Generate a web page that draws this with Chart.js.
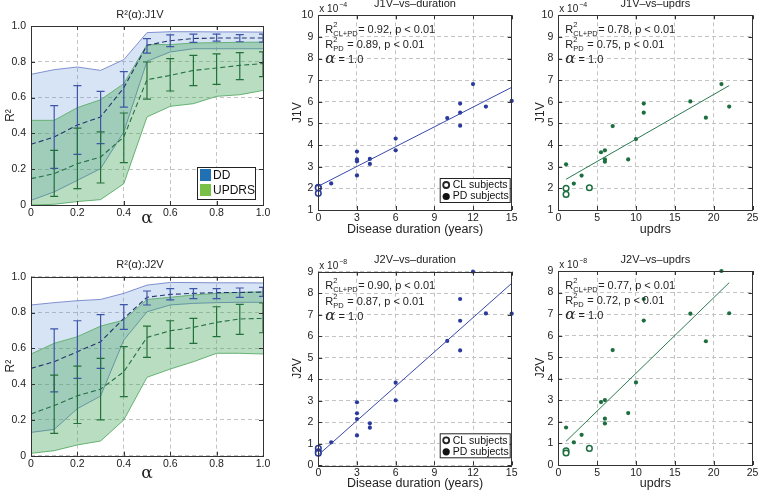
<!DOCTYPE html>
<html>
<head>
<meta charset="utf-8">
<script src="https://cdn.jsdelivr.net/npm/chart.js@4.4.1/dist/chart.umd.min.js"></script>
<style>
  html, body { margin: 0; padding: 0; background: #fff; }
  body { width: 758px; height: 491px; position: relative; overflow: hidden; }
  canvas { position: absolute; }
</style>
</head>
<body>
<canvas id="c1" width="275" height="240" style="left:0;top:0"></canvas>
<canvas id="c2" width="245" height="240" style="left:275px;top:0"></canvas>
<canvas id="c3" width="238" height="240" style="left:520px;top:0"></canvas>
<canvas id="c4" width="275" height="251" style="left:0;top:240px"></canvas>
<canvas id="c5" width="245" height="251" style="left:275px;top:240px"></canvas>
<canvas id="c6" width="238" height="251" style="left:520px;top:240px"></canvas>
<script>
// ---- data: R^2 against alpha ----
const alphaGrid = [0, 0.1, 0.2, 0.3, 0.4, 0.5, 0.6, 0.7, 0.8, 0.9, 1];
const barAlpha = [0.1, 0.2, 0.3, 0.4, 0.5, 0.6, 0.7, 0.8, 0.9, 1];

const j1vDdHi   = [0.73, 0.756, 0.771, 0.752, 0.812, 0.963, 0.968, 0.968, 0.967, 0.967, 0.966];
const j1vDdLo   = [0.026, 0.073, 0.138, 0.203, 0.408, 0.803, 0.855, 0.873, 0.873, 0.873, 0.873];
const j1vDdMean = [0.339, 0.38, 0.447, 0.492, 0.655, 0.892, 0.918, 0.93, 0.933, 0.933, 0.933];
const j1vUpHi   = [0.473, 0.473, 0.544, 0.588, 0.678, 0.896, 0.896, 0.905, 0.907, 0.909, 0.91];
const j1vUpLo   = [0, 0.004, 0.019, 0.03, 0.119, 0.492, 0.551, 0.566, 0.607, 0.616, 0.64];
const j1vUpMean = [0.147, 0.175, 0.231, 0.268, 0.38, 0.70, 0.724, 0.752, 0.765, 0.78, 0.79];
const j1vDdErrLo = [0.205, 0.283, 0.343, 0.547, 0.849, 0.885, 0.909, 0.915, 0.912, 0.91];
const j1vDdErrHi = [0.555, 0.667, 0.635, 0.745, 0.929, 0.95, 0.955, 0.955, 0.952, 0.955];
const j1vUpErrLo = [0.048, 0.091, 0.123, 0.237, 0.592, 0.637, 0.667, 0.674, 0.70, 0.717];
const j1vUpErrHi = [0.305, 0.43, 0.408, 0.514, 0.799, 0.818, 0.836, 0.844, 0.851, 0.856];

const j2vDdHi   = [0.842, 0.855, 0.866, 0.873, 0.907, 0.953, 0.968, 0.967, 0.966, 0.966, 0.965];
const j2vDdLo   = [0.13, 0.147, 0.263, 0.333, 0.646, 0.804, 0.842, 0.851, 0.855, 0.857, 0.857];
const j2vDdMean = [0.488, 0.525, 0.581, 0.637, 0.767, 0.885, 0.901, 0.907, 0.911, 0.912, 0.914];
const j2vUpHi   = [0.568, 0.628, 0.665, 0.724, 0.758, 0.873, 0.885, 0.898, 0.907, 0.912, 0.916];
const j2vUpLo   = [0.013, 0.028, 0.06, 0.082, 0.2, 0.438, 0.484, 0.525, 0.572, 0.572, 0.568];
const j2vUpMean = [0.233, 0.28, 0.335, 0.372, 0.469, 0.661, 0.698, 0.717, 0.745, 0.764, 0.767];
const j2vDdErrLo = [0.357, 0.432, 0.488, 0.706, 0.842, 0.87, 0.877, 0.877, 0.885, 0.89];
const j2vDdErrHi = [0.708, 0.754, 0.788, 0.844, 0.92, 0.933, 0.933, 0.933, 0.937, 0.94];
const j2vUpErrLo = [0.125, 0.18, 0.2, 0.33, 0.549, 0.6, 0.628, 0.665, 0.678, 0.687];
const j2vUpErrHi = [0.45, 0.50, 0.544, 0.609, 0.724, 0.754, 0.767, 0.832, 0.845, 0.853];

// ---- data: subjects (J1V in 1e-4, J2V in 1e-8) ----
const durPd = [1, 3, 3, 3, 3, 4, 4, 6, 6, 10, 11, 11, 11, 12, 13, 15];
const durCl = [0, 0, 0];
const durJ1vPd = [2.23, 3.70, 3.34, 3.25, 2.60, 3.36, 3.13, 4.30, 3.76, 5.25, 5.92, 5.50, 4.90, 6.82, 5.78, 6.04];
const durJ1vCl = [2.05, 2.02, 1.77];
const durJ2vPd = [1.07, 2.93, 2.42, 2.15, 1.39, 1.95, 1.75, 3.84, 3.02, 5.78, 7.73, 6.72, 5.34, 9.0, 7.06, 7.05];
const durJ2vCl = [0.79, 0.63, 0.56];

const updPd = [1, 2, 3, 5.5, 6, 6, 6, 7, 9, 10, 11, 11, 17, 19, 21, 22];
const updCl = [1, 1, 4];
const updJ1vPd = [3.11, 2.22, 2.59, 3.67, 3.76, 3.34, 3.23, 4.88, 3.34, 4.28, 5.92, 5.50, 6.02, 5.27, 6.82, 5.78];
const updJ1vCl = [2.0, 1.72, 2.03];
const updJ2vPd = [1.74, 1.05, 1.40, 2.92, 3.01, 2.15, 1.93, 5.33, 2.41, 3.83, 7.70, 6.70, 7.02, 5.74, 9.0, 7.04];
const updJ2vCl = [0.66, 0.56, 0.77];

// fitted lines (end points)
const durFitX = [0, 15];
const durJ1vFit = [2.1, 6.67];
const durJ2vFit = [0.48, 8.46];
const updFitX = [1, 22];
const updJ1vFit = [2.42, 6.75];
const updJ2vFit = [1.1, 8.46];

const FONT = '"Liberation Sans", Arial, sans-serif';
Chart.defaults.font.family = FONT;
Chart.defaults.color = '#222';
Chart.defaults.animation = false;

const pts = (xs, ys) => xs.map((x, i) => ({ x: x, y: ys[i] }));

// text, box, inner ticks, error bars and legends
const deco = {
  id: 'deco',
  afterDraw(chart, args, o) {
    const ctx = chart.ctx, a = chart.chartArea;
    const xs = chart.scales.x, ys = chart.scales.y;
    ctx.save();
    if (o.bars) {
      ctx.save();
      ctx.beginPath();
      ctx.rect(a.left, a.top - 6, a.right - a.left, a.bottom - a.top + 12);
      ctx.clip();
      o.bars.forEach(b => {
        ctx.strokeStyle = b.color;
        ctx.lineWidth = 1.2;
        b.x.forEach((xv, i) => {
          const px = xs.getPixelForValue(xv);
          const p1 = ys.getPixelForValue(b.lo[i]), p2 = ys.getPixelForValue(b.hi[i]);
          ctx.beginPath();
          ctx.moveTo(px, p1); ctx.lineTo(px, p2);
          ctx.moveTo(px - 4, p1); ctx.lineTo(px + 4, p1);
          ctx.moveTo(px - 4, p2); ctx.lineTo(px + 4, p2);
          ctx.stroke();
        });
      });
      ctx.restore();
    }
    // axes box and inward ticks
    ctx.strokeStyle = '#333';
    ctx.lineWidth = 1;
    ctx.strokeRect(Math.round(a.left) + 0.5, Math.round(a.top) + 0.5,
      Math.round(a.right - a.left), Math.round(a.bottom - a.top));
    ctx.beginPath();
    xs.ticks.forEach(t => {
      const p = Math.round(xs.getPixelForValue(t.value)) + 0.5;
      ctx.moveTo(p, a.bottom); ctx.lineTo(p, a.bottom - 4);
      ctx.moveTo(p, a.top); ctx.lineTo(p, a.top + 4);
    });
    ys.ticks.forEach(t => {
      const p = Math.round(ys.getPixelForValue(t.value)) + 0.5;
      ctx.moveTo(a.left, p); ctx.lineTo(a.left + 4, p);
      ctx.moveTo(a.right, p); ctx.lineTo(a.right - 4, p);
    });
    ctx.stroke();

    ctx.fillStyle = '#222';
    if (o.title) {
      ctx.font = o.titleFont || ('11px ' + FONT);
      ctx.textAlign = 'center';
      ctx.textBaseline = 'middle';
      const tx = o.titleX != null ? o.titleX : (a.left + a.right) / 2;
      ctx.fillText(o.title, tx, o.titleY);
    }
    ctx.textAlign = 'left';
    ctx.textBaseline = 'alphabetic';
    if (o.expo) {
      ctx.font = '10px ' + FONT;
      ctx.fillText('x 10', a.left + 1, a.top - 3);
      const w = ctx.measureText('x 10').width;
      ctx.font = '7px ' + FONT;
      ctx.fillText(o.expo, a.left + 1 + w + 1, a.top - 8);
    }
    if (o.notes) {
      const x0 = a.left + 7;
      const rLine = (y, sub, rest) => {
        ctx.font = '11px ' + FONT;
        ctx.fillText('R', x0, y);
        const w = ctx.measureText('R').width;
        ctx.font = '7.5px ' + FONT;
        ctx.fillText('2', x0 + w, y - 6);
        ctx.fillText(sub, x0 + w, y + 3);
        const sw = Math.max(ctx.measureText('2').width, ctx.measureText(sub).width);
        ctx.font = '11px ' + FONT;
        ctx.fillText(rest, x0 + w + sw + 0.5, y);
      };
      rLine(a.top + 17.5, 'CL+PD', '= ' + o.notes[0] + ', p < 0.01');
      rLine(a.top + 33, 'PD', ' = ' + o.notes[1] + ', p < 0.01');
      ctx.font = 'italic 15px "DejaVu Serif", serif';
      ctx.fillText('α', x0, a.top + 48);
      const aw = ctx.measureText('α').width;
      ctx.font = '11px ' + FONT;
      ctx.fillText(' = 1.0', x0 + aw, a.top + 48);
    }
    if (o.legend === 'dots') {
      const l = a.right - 72, t = a.bottom - 32;
      ctx.fillStyle = '#fff';
      ctx.fillRect(l, t, 70, 24);
      ctx.strokeStyle = '#222';
      ctx.lineWidth = 1;
      ctx.strokeRect(l + 0.5, t + 0.5, 70, 24);
      ctx.lineWidth = 1.8;
      ctx.beginPath(); ctx.arc(l + 6.5, t + 7, 3, 0, Math.PI * 2); ctx.stroke();
      ctx.fillStyle = '#111';
      ctx.beginPath(); ctx.arc(l + 6.5, t + 18.5, 3.6, 0, Math.PI * 2); ctx.fill();
      ctx.font = '10.5px ' + FONT;
      ctx.textBaseline = 'middle';
      ctx.fillText('CL subjects', l + 13, t + 7.5);
      ctx.fillText('PD subjects', l + 13, t + 18.5);
    }
    if (o.legend === 'bands') {
      const l = a.right - 66, t = a.bottom - 38;
      ctx.fillStyle = '#fff';
      ctx.fillRect(l, t, 58, 32);
      ctx.strokeStyle = '#222';
      ctx.lineWidth = 1;
      ctx.strokeRect(l + 0.5, t + 0.5, 58, 32);
      ctx.fillStyle = '#2270b4';
      ctx.fillRect(l + 3, t + 2, 11, 12);
      ctx.fillStyle = '#78c046';
      ctx.fillRect(l + 3, t + 17, 11, 12);
      ctx.fillStyle = '#111';
      ctx.font = '12px ' + FONT;
      ctx.textBaseline = 'middle';
      ctx.fillText('DD', l + 16, t + 8.5);
      ctx.fillText('UPDRS', l + 16, t + 23.5);
    }
    ctx.restore();
  }
};
Chart.register(deco);

function axes(o) {
  return {
    x: {
      type: 'linear', min: o.xMin, max: o.xMax,
      ticks: { stepSize: o.xStep, padding: 2, font: { size: 10.5 }, color: '#222' },
      grid: { color: '#c4c4c4', drawTicks: false },
      border: { display: false, dash: [4, 3] },
      title: { display: true, text: o.xTitle, font: o.xTitleFont, padding: { top: 0, bottom: o.xTitlePad }, color: '#222' },
      afterFit: s => { s.height = o.xh; s.paddingLeft = 0; s.paddingRight = 0; }
    },
    y: {
      type: 'linear', min: o.yMin, max: o.yMax,
      ticks: { stepSize: o.yStep, padding: 5, font: { size: 10.5 }, color: '#222' },
      grid: { color: '#c4c4c4', drawTicks: false },
      border: { display: false, dash: [4, 3] },
      title: { display: true, text: o.yTitle, font: { size: 12 }, padding: { top: o.yTitlePad, bottom: 0 }, color: '#222' },
      afterFit: s => { s.width = o.yw; }
    }
  };
}

function bandChart(id, d, frame) {
  const band = (data, color, fill) => ({
    data: pts(alphaGrid, data), borderColor: color, borderWidth: 0.9,
    backgroundColor: fill ? fill : 'transparent', fill: fill ? '+1' : false,
    pointRadius: 0, tension: 0
  });
  const meanLine = (data, color) => ({
    data: pts(alphaGrid, data), borderColor: color, borderWidth: 1.1,
    borderDash: [5, 3], fill: false, pointRadius: 0, tension: 0
  });
  new Chart(document.getElementById(id), {
    type: 'line',
    data: {
      datasets: [
        meanLine(d.ddMean, '#24346e'),
        meanLine(d.upMean, '#257046'),
        band(d.upHi, '#5fae6c', 'rgba(60,160,80,0.36)'),
        band(d.upLo, '#5fae6c'),
        band(d.ddHi, '#7484c8', 'rgba(80,140,210,0.23)'),
        band(d.ddLo, '#7484c8')
      ]
    },
    options: {
      responsive: false,
      layout: { padding: { left: 0, top: frame.top, right: frame.right, bottom: 0 } },
      scales: axes({
        xMin: 0, xMax: 1, xStep: 0.2, yMin: 0, yMax: 1, yStep: 0.2,
        xTitle: 'α', xTitleFont: { size: 17, family: '"DejaVu Serif", serif' }, xTitlePad: frame.xTitlePad,
        yTitle: 'R²', yTitlePad: 3, xh: frame.xh, yw: 31
      }),
      plugins: {
        legend: { display: false }, tooltip: { enabled: false },
        deco: {
          title: d.title, titleX: 140, titleY: frame.titleY, legend: d.legend,
          bars: [
            { x: barAlpha, lo: d.ddErrLo, hi: d.ddErrHi, color: '#3f55a8' },
            { x: barAlpha, lo: d.upErrLo, hi: d.upErrHi, color: '#24703c' }
          ]
        }
      }
    }
  });
}

function scatterChart(id, d, frame) {
  new Chart(document.getElementById(id), {
    type: 'scatter',
    data: {
      datasets: [
        { type: 'line', data: pts(d.fitX, d.fitY), borderColor: d.lineColor, borderWidth: 1,
          pointRadius: 0, fill: false },
        { data: pts(d.clX, d.clY), pointRadius: 2.8, borderWidth: 1.5, borderColor: d.color,
          backgroundColor: '#fff', clip: false },
        { data: pts(d.pdX, d.pdY), pointRadius: 2.1, borderWidth: 0, backgroundColor: d.color, clip: false }
      ]
    },
    options: {
      responsive: false,
      layout: { padding: { left: 0, top: frame.top, right: frame.right, bottom: 0 } },
      scales: axes({
        xMin: 0, xMax: d.xMax, xStep: d.xStep, yMin: d.yMin, yMax: d.yMax, yStep: 1,
        xTitle: d.xTitle, xTitleFont: { size: 12.5 }, xTitlePad: frame.xTitlePad,
        yTitle: d.yTitle, yTitlePad: frame.yTitlePad, xh: frame.xh, yw: frame.yw
      }),
      plugins: {
        legend: { display: false }, tooltip: { enabled: false },
        deco: {
          title: d.title, titleY: frame.titleY, expo: d.expo,
          notes: d.notes, legend: d.legend ? 'dots' : null
        }
      }
    }
  });
}

// ---------- R^2(alpha) panels ----------
bandChart('c1', {
  title: 'R²(α):J1V', legend: 'bands',
  ddHi: j1vDdHi, ddLo: j1vDdLo, ddMean: j1vDdMean,
  upHi: j1vUpHi, upLo: j1vUpLo, upMean: j1vUpMean,
  ddErrLo: j1vDdErrLo, ddErrHi: j1vDdErrHi, upErrLo: j1vUpErrLo, upErrHi: j1vUpErrHi
}, { top: 26, right: 12, xh: 35, titleY: 15, xTitlePad: 11 });

bandChart('c4', {
  title: 'R²(α):J2V', legend: null,
  ddHi: j2vDdHi, ddLo: j2vDdLo, ddMean: j2vDdMean,
  upHi: j2vUpHi, upLo: j2vUpLo, upMean: j2vUpMean,
  ddErrLo: j2vDdErrLo, ddErrHi: j2vDdErrHi, upErrLo: j2vUpErrLo, upErrHi: j2vUpErrHi
}, { top: 36.7, right: 12, xh: 35.3, titleY: 25, xTitlePad: 7 });

// ---------- scatter panels ----------
scatterChart('c2', {
  title: 'J1V–vs–duration', expo: '−4', notes: ['0.92', '0.89'], legend: true,
  pdX: durPd, pdY: durJ1vPd, clX: durCl, clY: durJ1vCl, fitX: durFitX, fitY: durJ1vFit,
  color: '#2a3a9c', lineColor: '#3848a8', xMax: 15, xStep: 3, yMin: 1, yMax: 10,
  xTitle: 'Disease duration (years)', yTitle: 'J1V'
}, { top: 15.3, right: 8.3, xh: 30, yw: 43.3, titleY: 3.5, xTitlePad: 3, yTitlePad: 15 });

scatterChart('c3', {
  title: 'J1V–vs–updrs', expo: '−4', notes: ['0.78', '0.75'], legend: false,
  pdX: updPd, pdY: updJ1vPd, clX: updCl, clY: updJ1vCl, fitX: updFitX, fitY: updJ1vFit,
  color: '#1c6e3e', lineColor: '#2a7a50', xMax: 25, xStep: 5, yMin: 1, yMax: 10,
  xTitle: 'updrs', yTitle: 'J1V'
}, { top: 15.3, right: 4.7, xh: 30, yw: 38.3, titleY: 3.5, xTitlePad: 3, yTitlePad: 13 });

scatterChart('c5', {
  title: 'J2V–vs–duration', expo: '−8', notes: ['0.90', '0.87'], legend: true,
  pdX: durPd, pdY: durJ2vPd, clX: durCl, clY: durJ2vCl, fitX: durFitX, fitY: durJ2vFit,
  color: '#2a3a9c', lineColor: '#3848a8', xMax: 15, xStep: 3, yMin: 0, yMax: 9,
  xTitle: 'Disease duration (years)', yTitle: 'J2V'
}, { top: 31.7, right: 8.3, xh: 25.7, yw: 43.3, titleY: 20, xTitlePad: 0, yTitlePad: 15 });

scatterChart('c6', {
  title: 'J2V–vs–updrs', expo: '−8', notes: ['0.77', '0.72'], legend: false,
  pdX: updPd, pdY: updJ2vPd, clX: updCl, clY: updJ2vCl, fitX: updFitX, fitY: updJ2vFit,
  color: '#1c6e3e', lineColor: '#2a7a50', xMax: 25, xStep: 5, yMin: 0, yMax: 9,
  xTitle: 'updrs', yTitle: 'J2V'
}, { top: 31, right: 4.7, xh: 26, yw: 38.3, titleY: 20, xTitlePad: 0, yTitlePad: 13 });
</script>
</body>
</html>
